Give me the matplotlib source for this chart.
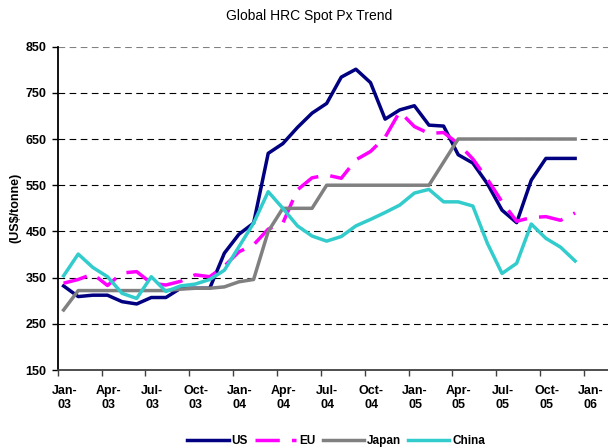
import matplotlib.pyplot as plt
import numpy as np

plt.rcParams['font.family'] = ['Liberation Sans', 'DejaVu Sans']

# monthly spot prices, Jan-03 .. Dec-05 (US$/tonne)
months = np.arange(36)
us = [332, 309, 312, 312, 298, 293, 307, 307, 327, 327, 327, 403,
      444, 468, 619, 640, 675, 706, 727, 784, 801, 772, 693, 713,
      722, 680, 678, 616, 598, 553, 496, 469, 561, 608, 608, 608]
eu = [338, 346, 358, 333, 360, 363, 338, 334, 342, 356, 352, 375,
      406, 421, 455, 468, 540, 566, 572, 565, 605, 623, 654, 709,
      677, 662, 664, 640, 607, 563, 514, 472, 480, 482, 474, 490]
japan = [280, 322, 322, 322, 322, 322, 322, 322, 325, 327, 327, 330,
         341, 346, 450, 500, 500, 500, 550, 550, 550, 550, 550, 550,
         550, 550, 600, 650, 650, 650, 650, 650, 650, 650, 650, 650]
china = [354, 401, 372, 352, 316, 305, 352, 320, 332, 336, 346, 366,
         417, 468, 536, 500, 462, 440, 429, 439, 462, 476, 491, 507,
         533, 541, 514, 514, 505, 424, 359, 381, 466, 435, 416, 386]

tick_labels = ['Jan-\n03', 'Apr-\n03', 'Jul-\n03', 'Oct-\n03',
               'Jan-\n04', 'Apr-\n04', 'Jul-\n04', 'Oct-\n04',
               'Jan-\n05', 'Apr-\n05', 'Jul-\n05', 'Oct-\n05', 'Jan-\n06']

fig = plt.figure(figsize=(6.08, 4.48), dpi=100)
ax = fig.add_axes([0.095, 0.174, 0.905, 0.722])

x = months + 0.4
ax.plot(x, us, color='#000080', lw=2.5, label='US', zorder=3)
ax.plot(x, eu, color='#FF00FF', lw=2.5, ls=(0, (7, 3.5)), label='EU', zorder=3)
ax.plot(x, japan, color='#808080', lw=2.5, label='Japan', zorder=3)
ax.plot(x, china, color='#33CCCC', lw=2.5, label='China', zorder=3)

# dashed horizontal gridlines
for v in range(250, 851, 100):
    ax.axhline(v, color='black' if v < 850 else '#808080', lw=0.8,
               ls=(0, (6, 4)), zorder=1)

ax.set_xlim(0, 37.65)
ax.set_ylim(150, 850)
ax.set_yticks(range(150, 851, 100))

# tick marks on quarter boundaries, labels sit on the mid-month points
qtr = np.arange(0, 37, 3)
ax.set_xticks(qtr)
ax.set_xticklabels([])
ax.set_xticks(qtr + 0.45, minor=True)
ax.set_xticklabels(tick_labels, minor=True)
ax.tick_params(axis='x', which='minor', length=0, pad=11, labelsize=9)

for s in ['top', 'right']:
    ax.spines[s].set_visible(False)
ax.spines['left'].set_linewidth(1.3)
ax.spines['bottom'].set_linewidth(1.3)
ax.spines['bottom'].set_color('#404040')

ax.tick_params(axis='y', length=4, width=1, pad=4, labelsize=9)
ax.tick_params(axis='x', which='major', length=4, width=1, color='#404040')
for lbl in ax.get_xticklabels(minor=True) + ax.get_yticklabels():
    lbl.set_fontweight('bold')

ax.set_ylabel('(US$/tonne)', fontsize=9, fontweight='bold', labelpad=3)
fig.text(0.509, 0.964, 'Global HRC Spot Px Trend', fontsize=10,
         ha='center', va='center')

fig.legend(loc='center', bbox_to_anchor=(0.553, 0.015), ncol=4, frameon=False,
           handlelength=3.5, handletextpad=0.25, columnspacing=0.6,
           prop={'size': 8.5, 'weight': 'bold'})

fig.savefig('out.png', dpi=100)
